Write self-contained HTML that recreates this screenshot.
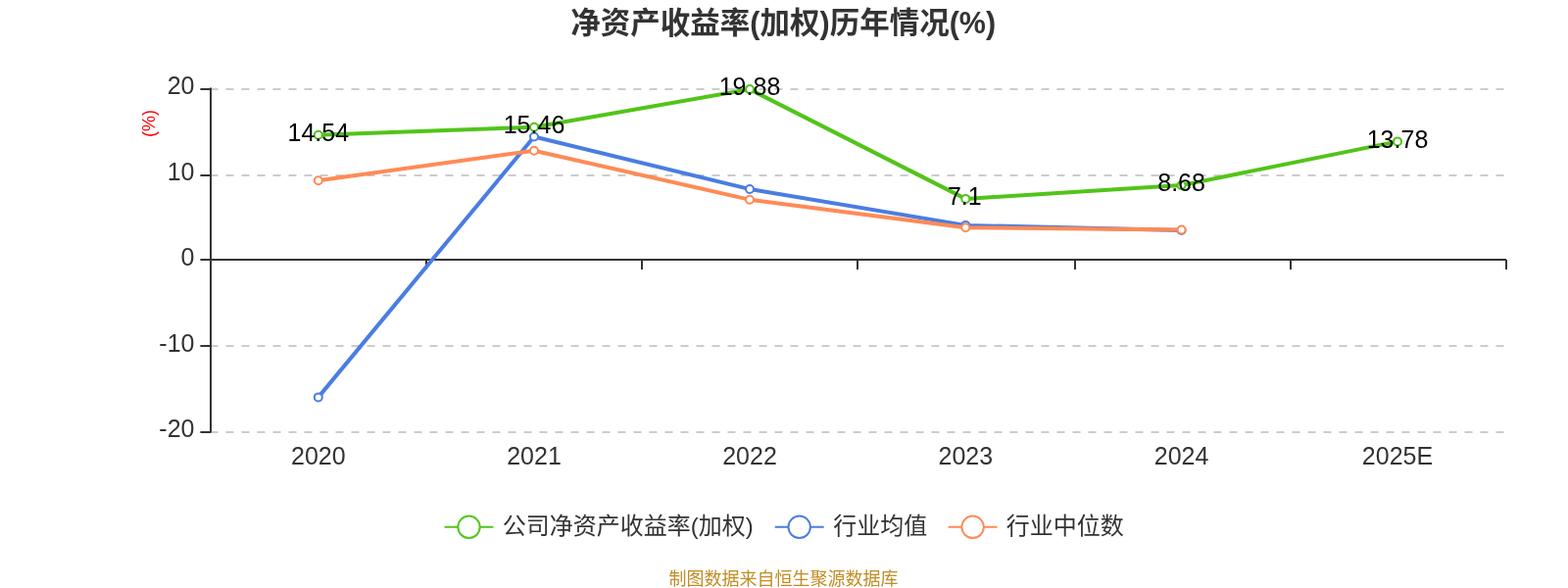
<!DOCTYPE html>
<html lang="zh-CN">
<head>
<meta charset="utf-8">
<title>净资产收益率(加权)历年情况(%)</title>
<style>
html,body{margin:0;padding:0;background:#fff;}
body{width:1600px;height:600px;overflow:hidden;}
svg{display:block;}
text{font-family:"Liberation Sans", "Noto Sans CJK SC", sans-serif;}
</style>
</head>
<body>
<svg id="chart" width="1600" height="600" viewBox="0 0 1600 600">
<rect x="0" y="0" width="1600" height="600" fill="#ffffff"/>
<text x="799.2" y="34" text-anchor="middle" font-size="30.5" font-weight="bold" fill="#333333">净资产收益率(加权)历年情况(%)</text>
<g id="grid" stroke="#cccccc" stroke-width="2" stroke-dasharray="8 8" fill="none">
<line x1="214.5" y1="91" x2="1537" y2="91"/>
<line x1="214.5" y1="179" x2="1537" y2="179"/>
<line x1="214.5" y1="353" x2="1537" y2="353"/>
<line x1="214.5" y1="441" x2="1537" y2="441"/>
</g>
<g id="axes" stroke="#333333" stroke-width="2" fill="none">
<line x1="215" y1="89.4" x2="215" y2="441.6"/>
<line x1="214" y1="265" x2="1537" y2="265"/>
<line x1="204.4" y1="91" x2="215" y2="91"/>
<line x1="204.4" y1="179" x2="215" y2="179"/>
<line x1="204.4" y1="265" x2="215" y2="265"/>
<line x1="204.4" y1="353" x2="215" y2="353"/>
<line x1="204.4" y1="441" x2="215" y2="441"/>
<line x1="215" y1="265" x2="215" y2="275"/>
<line x1="435" y1="265" x2="435" y2="275"/>
<line x1="655" y1="265" x2="655" y2="275"/>
<line x1="875" y1="265" x2="875" y2="275"/>
<line x1="1097" y1="265" x2="1097" y2="275"/>
<line x1="1317" y1="265" x2="1317" y2="275"/>
<line x1="1537" y1="265" x2="1537" y2="275"/>
</g>
<g font-size="25" fill="#333333" text-anchor="end">
<text x="198.5" y="95.85">20</text>
<text x="198.5" y="183.85">10</text>
<text x="198.5" y="270.85">0</text>
<text x="198.5" y="358.85">-10</text>
<text x="198.5" y="445.85">-20</text>
</g>
<text transform="translate(157.8,126) rotate(-90)" text-anchor="middle" font-size="18" fill="#ff0000">(%)</text>
<g font-size="25" fill="#333333" text-anchor="middle">
<text x="324.8" y="473.80">2020</text>
<text x="545.0" y="473.80">2021</text>
<text x="765.0" y="473.80">2022</text>
<text x="985.3" y="473.80">2023</text>
<text x="1205.6" y="473.80">2024</text>
<text x="1426.0" y="473.80">2025E</text>
</g>
<polyline points="324.8,137.8 545.0,129.7 765.0,91.1 985.3,202.9 1205.6,189.1 1426.0,144.4" fill="none" stroke="#52c41a" stroke-width="4" stroke-linejoin="bevel"/>
<g fill="#ffffff" stroke="#52c41a" stroke-width="2">
<circle cx="324.8" cy="137.8" r="4"/>
<circle cx="545.0" cy="129.7" r="4"/>
<circle cx="765.0" cy="91.1" r="4"/>
<circle cx="985.3" cy="202.9" r="4"/>
<circle cx="1205.6" cy="189.1" r="4"/>
<circle cx="1426.0" cy="144.4" r="4"/>
</g>
<polyline points="324.8,405.4 545.0,139.5 765.0,193.0 985.3,229.9 1205.6,235.0" fill="none" stroke="#4a7de2" stroke-width="4" stroke-linejoin="bevel"/>
<g fill="#ffffff" stroke="#4a7de2" stroke-width="2">
<circle cx="324.8" cy="405.4" r="4"/>
<circle cx="545.0" cy="139.5" r="4"/>
<circle cx="765.0" cy="193.0" r="4"/>
<circle cx="985.3" cy="229.9" r="4"/>
<circle cx="1205.6" cy="235.0" r="4"/>
</g>
<polyline points="324.8,184.3 545.0,153.7 765.0,203.7 985.3,232.2 1205.6,234.5" fill="none" stroke="#ff8a55" stroke-width="4" stroke-linejoin="bevel"/>
<g fill="#ffffff" stroke="#ff8a55" stroke-width="2">
<circle cx="324.8" cy="184.3" r="4"/>
<circle cx="545.0" cy="153.7" r="4"/>
<circle cx="765.0" cy="203.7" r="4"/>
<circle cx="985.3" cy="232.2" r="4"/>
<circle cx="1205.6" cy="234.5" r="4"/>
</g>
<g font-size="25" fill="#000000" text-anchor="middle">
<text x="324.8" y="143.97">14.54</text>
<text x="545.0" y="135.93">15.46</text>
<text x="765.0" y="97.25">19.88</text>
<text x="984.3" y="209.07">7.1</text>
<text x="1205.6" y="195.25">8.68</text>
<text x="1426.0" y="150.62">13.78</text>
</g>
<line x1="453.5" y1="537.8" x2="503.5" y2="537.8" stroke="#52c41a" stroke-width="2"/>
<circle cx="478.5" cy="537.8" r="11.2" fill="#ffffff" stroke="#52c41a" stroke-width="2"/>
<text x="512.7" y="544.7" font-size="24" fill="#333333">公司净资产收益率(加权)</text>
<line x1="790.7" y1="537.8" x2="840.7" y2="537.8" stroke="#4a7de2" stroke-width="2"/>
<circle cx="815.7" cy="537.8" r="11.2" fill="#ffffff" stroke="#4a7de2" stroke-width="2"/>
<text x="850.3" y="544.7" font-size="24" fill="#333333">行业均值</text>
<line x1="967.6" y1="537.8" x2="1017.6" y2="537.8" stroke="#ff8a55" stroke-width="2"/>
<circle cx="992.6" cy="537.8" r="11.2" fill="#ffffff" stroke="#ff8a55" stroke-width="2"/>
<text x="1026.8" y="544.7" font-size="24" fill="#333333">行业中位数</text>
<text x="799.4" y="596.5" text-anchor="middle" font-size="18" fill="#c08c24">制图数据来自恒生聚源数据库</text>
</svg>
</body>
</html>
